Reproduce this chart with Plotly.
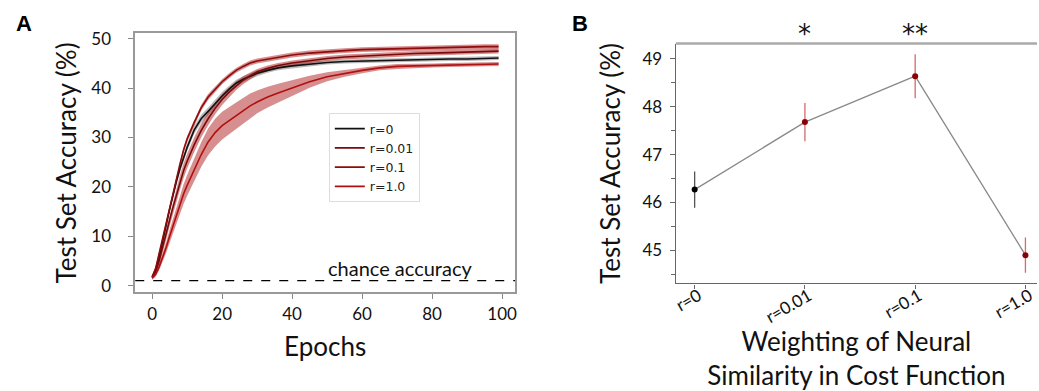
import plotly.graph_objects as go
import numpy as np

# ---------------- Panel A data ----------------
epochs = [0, 1, 2, 3, 4, 5, 6, 7, 8, 9, 10, 12, 14, 16, 18, 20, 22, 24, 26, 28, 30,
          33, 36, 40, 45, 50, 55, 60, 65, 70, 75, 80, 85, 90, 95, 99]
acc_r0 = [1.7, 3.2, 5.8, 8.8, 12.2, 15.5, 18.5, 21.3, 23.8, 26.0, 28.0, 31.5, 33.8, 35.3, 36.9,
          38.4, 39.8, 41.0, 41.8, 42.4, 43.0, 43.6, 44.1, 44.5, 44.9, 45.2, 45.4, 45.5, 45.6,
          45.6, 45.7, 45.8, 45.9, 45.9, 46.0, 46.1]
acc_r001 = [1.6, 2.8, 5.0, 7.6, 10.5, 13.3, 16.0, 18.6, 21.0, 23.3, 25.2, 28.5, 31.4, 33.8, 35.9,
            37.7, 39.2, 40.5, 41.6, 42.5, 43.3, 44.0, 44.6, 45.1, 45.6, 46.0, 46.3, 46.5, 46.7,
            46.9, 47.0, 47.1, 47.2, 47.3, 47.4, 47.5]
acc_r01 = [1.8, 3.5, 6.5, 9.6, 12.8, 15.8, 18.5, 21.5, 24.8, 27.5, 29.7, 33.0, 36.0, 38.2, 39.8,
           41.3, 42.5, 43.6, 44.4, 45.1, 45.5, 45.9, 46.3, 46.7, 47.1, 47.4, 47.6, 47.8, 47.9,
           48.0, 48.1, 48.2, 48.2, 48.3, 48.4, 48.4]
acc_r1 = [1.5, 2.3, 3.8, 5.6, 7.7, 10.0, 12.2, 14.5, 16.6, 18.6, 20.3, 23.5, 26.5, 29.1, 31.0,
          32.4, 33.4, 34.4, 35.4, 36.4, 37.2, 38.2, 39.0, 40.0, 41.3, 42.3, 43.0, 43.6, 44.1,
          44.4, 44.5, 44.6, 44.7, 44.8, 44.9, 44.9]
sd_r0 = [0.2, 0.4, 0.6, 0.7, 0.8, 0.8, 0.8, 0.8, 0.8, 0.8, 0.8, 0.8, 0.8, 0.8, 0.8, 0.8, 0.7, 0.7,
         0.6, 0.6, 0.6, 0.5, 0.5, 0.5, 0.5, 0.4, 0.4, 0.4, 0.4, 0.4, 0.4, 0.4, 0.4, 0.4, 0.4, 0.4]
sd_r001 = [0.2, 0.5, 0.8, 1.0, 1.2, 1.3, 1.4, 1.5, 1.5, 1.5, 1.5, 1.5, 1.4, 1.3, 1.2, 1.1, 1.0, 0.9,
           0.8, 0.7, 0.6, 0.6, 0.5, 0.5, 0.5, 0.5, 0.5, 0.5, 0.5, 0.5, 0.5, 0.5, 0.5, 0.5, 0.5, 0.5]
sd_r01 = [0.2, 0.4, 0.5, 0.6, 0.6, 0.6, 0.6, 0.6, 0.6, 0.6, 0.6, 0.6, 0.6, 0.6, 0.6, 0.5, 0.5, 0.5,
          0.5, 0.5, 0.5, 0.5, 0.5, 0.5, 0.5, 0.5, 0.5, 0.5, 0.5, 0.5, 0.5, 0.5, 0.5, 0.5, 0.5, 0.5]
sd_r1 = [0.3, 0.5, 0.7, 0.9, 1.1, 1.3, 1.5, 1.7, 1.9, 2.0, 2.1, 2.3, 2.5, 2.7, 2.8, 2.8, 2.8, 2.7,
         2.6, 2.5, 2.3, 2.1, 1.9, 1.6, 1.2, 0.9, 0.7, 0.6, 0.5, 0.5, 0.4, 0.4, 0.4, 0.4, 0.4, 0.4]
series_names = ["r=0", "r=0.01", "r=0.1", "r=1.0"]
chance_level = 1.0
x_ticks_a = [0, 20, 40, 60, 80, 100]
y_ticks_a = [0, 10, 20, 30, 40, 50]

# ---------------- Panel B data ----------------
conditions = ["r=0", "r=0.01", "r=0.1", "r=1.0"]
mean_acc = [46.27, 47.68, 48.64, 44.90]
err_acc = [0.38, 0.40, 0.46, 0.37]
significance = ["", "*", "**", ""]
y_ticks_b = [45, 46, 47, 48, 49]

W, H = 1039, 391
FONT = "Lato"

line_cols = ["#111111", "#7a0a0a", "#8e0c0c", "#b01010"]
band_cols = ["rgba(60,60,60,0.35)", "rgba(175,30,30,0.5)",
             "rgba(175,30,30,0.5)", "rgba(175,30,30,0.5)"]
means = [acc_r0, acc_r001, acc_r01, acc_r1]
sds = [sd_r0, sd_r001, sd_r01, sd_r1]

fig = go.Figure()

# bands
for m, s, bc in zip(means, sds, band_cols):
    m = np.array(m); s = np.array(s)
    fig.add_trace(go.Scatter(x=epochs, y=m + s, mode="lines", line=dict(width=0),
                             showlegend=False, hoverinfo="skip", xaxis="x", yaxis="y"))
    fig.add_trace(go.Scatter(x=epochs, y=m - s, mode="lines", line=dict(width=0),
                             fill="tonexty", fillcolor=bc, showlegend=False,
                             hoverinfo="skip", xaxis="x", yaxis="y"))
# lines
for m, name, lc in zip(means, series_names, line_cols):
    fig.add_trace(go.Scatter(x=epochs, y=m, mode="lines", name=name,
                             line=dict(color=lc, width=1.6), xaxis="x", yaxis="y"))

# chance line
fig.add_shape(type="line", xref="x domain", yref="y", x0=0, x1=1,
              y0=chance_level, y1=chance_level, line=dict(color="black", width=1.2, dash="dash"))
fig.add_annotation(x=70.7, y=chance_level, xref="x", yref="y", text="chance accuracy",
                   showarrow=False, xanchor="center", yanchor="bottom",
                   font=dict(family=FONT, size=20, color="#111"), yshift=-1)

# Panel B
fig.add_trace(go.Scatter(x=conditions, y=mean_acc, mode="lines",
                         line=dict(color="#8a8a8a", width=1.3), showlegend=False,
                         xaxis="x2", yaxis="y2"))
pt_cols = ["#000000", "#8b0000", "#8b0000", "#8b0000"]
err_cols = ["#555555", "#d46a6a", "#d46a6a", "#d46a6a"]
for c, m, e, pc, ec in zip(conditions, mean_acc, err_acc, pt_cols, err_cols):
    fig.add_trace(go.Scatter(x=[c], y=[m], mode="markers",
                             marker=dict(color=pc, size=6),
                             error_y=dict(type="data", array=[e], color=ec, thickness=1.3, width=0),
                             showlegend=False, xaxis="x2", yaxis="y2"))
for c, s in zip(conditions, significance):
    if s:
        fig.add_annotation(x=c, y=1.0, xref="x2", yref="paper", text=s, showarrow=False,
                           yanchor="top", yshift=-11,
                           font=dict(family="DejaVu Sans", size=26, color="#111"))

# panel letters
fig.add_annotation(x=20 / W, y=1 - 18 / H, xref="paper", yref="paper", text="<b>A</b>",
                   showarrow=False, xanchor="center", yanchor="middle",
                   font=dict(family="Liberation Sans", size=22, color="black"))
fig.add_annotation(x=579 / W, y=1 - 18 / H, xref="paper", yref="paper", text="<b>B</b>",
                   showarrow=False, xanchor="center", yanchor="middle",
                   font=dict(family="Liberation Sans", size=22, color="black"))

# top border of panel B
fig.add_shape(type="line", xref="paper", yref="paper", x0=675.7 / W, x1=1.0,
              y0=1 - 39 / H, y1=1 - 39 / H, line=dict(color="#aaaaaa", width=2.5))

fig.update_layout(
    width=W, height=H, margin=dict(l=0, r=0, t=0, b=0),
    paper_bgcolor="white", plot_bgcolor="white",
    font=dict(family=FONT, color="#111"),
    showlegend=True,
    legend=dict(x=326.7 / W, y=1 - 111 / H, xanchor="left", yanchor="top",
                bgcolor="white", bordercolor="#dddddd", borderwidth=1,
                font=dict(family="DejaVu Sans", size=12.5, color="#222"),
                tracegroupgap=0, itemwidth=30, traceorder="normal"),
    xaxis=dict(domain=[132 / W, 514 / W], range=[-4.83, 103.7], tickvals=x_ticks_a,
               ticks="outside", ticklen=5, tickcolor="#888", showline=True, mirror=True,
               linecolor="#999", linewidth=1.5, showgrid=False, zeroline=False,
               tickfont=dict(family=FONT, size=17, color="#111"),
               title=dict(text="Epochs", font=dict(family=FONT, size=26, color="#111"), standoff=15),
               anchor="y"),
    yaxis=dict(domain=[1 - 297 / H, 1 - 28.5 / H], range=[-1.37, 51.07], tickvals=y_ticks_a,
               ticks="outside", ticklen=5, tickcolor="#888", showline=True, mirror=True,
               linecolor="#999", linewidth=1.5, showgrid=False, zeroline=False,
               tickfont=dict(family=FONT, size=17, color="#111"), ticklabelstandoff=14,
               title=dict(text="Test Set Accuracy (%)", font=dict(family=FONT, size=26, color="#111"),
                          standoff=7),
               anchor="x"),
    xaxis2=dict(domain=[675.7 / W, 1.0], range=[-0.171, 3.105], type="category",
                categoryorder="array", categoryarray=conditions,
                ticks="outside", ticklen=4, tickcolor="#666", showline=True,
                linecolor="#666", linewidth=1.3, showgrid=False, zeroline=False,
                tickangle=-30, tickfont=dict(family=FONT, size=17, color="#111"),
                ticklabelstandoff=-9, ticklabelshift=4,
                title=dict(text="Weighting of Neural<br>Similarity in Cost Function",
                           font=dict(family=FONT, size=26, color="#111"), standoff=12),
                anchor="y2"),
    yaxis2=dict(domain=[1 - 287.7 / H, 1 - 39 / H], range=[44.31, 49.32], tickvals=y_ticks_b,
                ticks="outside", ticklen=5, tickcolor="#666", showline=True,
                linecolor="#666", linewidth=1.3, showgrid=False, zeroline=False,
                minor=dict(ticks="outside", ticklen=4, tickcolor="#666", dtick=0.5),
                tickfont=dict(family=FONT, size=17, color="#111"), ticklabelstandoff=4,
                title=dict(text="Test Set Accuracy (%)", font=dict(family=FONT, size=26, color="#111"),
                           standoff=14),
                anchor="x2"),
)

fig.write_html("out.html")
